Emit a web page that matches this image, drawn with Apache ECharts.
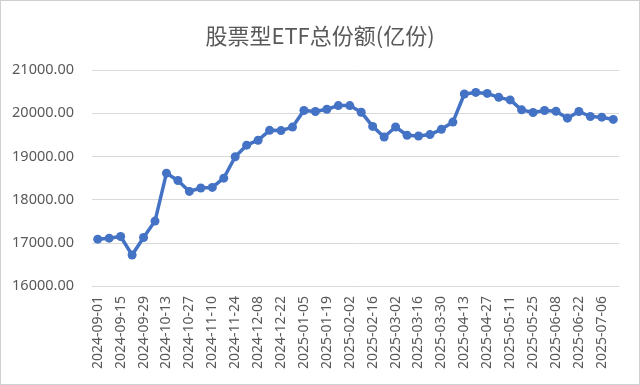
<!DOCTYPE html>
<html><head><meta charset="utf-8">
<script src="https://cdn.jsdelivr.net/npm/echarts@6/dist/echarts.min.js"></script>
<style>html,body{margin:0;padding:0;background:#fff}#c{width:640px;height:385px;box-sizing:border-box;border:1px solid #d0d0d0}</style>
</head><body><div id="c"></div>
<script>
const dates = ["2024-09-01","2024-09-08","2024-09-15","2024-09-22","2024-09-29","2024-10-06","2024-10-13","2024-10-20","2024-10-27","2024-11-03","2024-11-10","2024-11-17","2024-11-24","2024-12-01","2024-12-08","2024-12-15","2024-12-22","2024-12-29","2025-01-05","2025-01-12","2025-01-19","2025-01-26","2025-02-02","2025-02-09","2025-02-16","2025-02-23","2025-03-02","2025-03-09","2025-03-16","2025-03-23","2025-03-30","2025-04-06","2025-04-13","2025-04-20","2025-04-27","2025-05-04","2025-05-11","2025-05-18","2025-05-25","2025-06-01","2025-06-08","2025-06-15","2025-06-22","2025-06-29","2025-07-06","2025-07-13"];
const shares = [17084,17107,17145,16717,17122,17503,18612,18443,18190,18268,18282,18497,18992,19260,19375,19604,19597,19679,20062,20039,20092,20176,20176,20023,19695,19450,19680,19489,19473,19505,19627,19794,20444,20481,20458,20367,20307,20078,20016,20062,20046,19885,20039,19924,19908,19856];
const yTicks = {min:16000, max:21000, interval:1000};
const chart = echarts.init(document.getElementById('c'));
chart.setOption({
  backgroundColor:'#fff',
  animation:false,
  title:{text:'股票型ETF总份额(亿份)', left:'center', top:19,
    textStyle:{fontFamily:'Noto Sans CJK SC', fontSize:22, fontWeight:'normal', color:'#595959'}},
  grid:{left:91, right:20, top:69, bottom:98},
  xAxis:{type:'category', data:dates, boundaryGap:true,
    axisLine:{lineStyle:{color:'#d9d9d9', width:1}},
    axisTick:{show:false},
    axisLabel:{rotate:90, interval:1, color:'#595959', fontSize:14, fontFamily:'Noto Sans', margin:10}},
  yAxis:{type:'value', min:yTicks.min, max:yTicks.max, interval:yTicks.interval,
    axisLine:{show:false}, axisTick:{show:false},
    axisLabel:{color:'#595959', fontSize:14.5, fontFamily:'Noto Sans', margin:18, formatter:v=>v.toFixed(2)},
    splitLine:{lineStyle:{color:'#d9d9d9', width:1}}},
  series:[{type:'line', data:shares, symbol:'circle', symbolSize:9, showAllSymbol:true,
    lineStyle:{color:'#4472C4', width:3.5}, itemStyle:{color:'#4472C4'}}]
});
</script></body></html>
